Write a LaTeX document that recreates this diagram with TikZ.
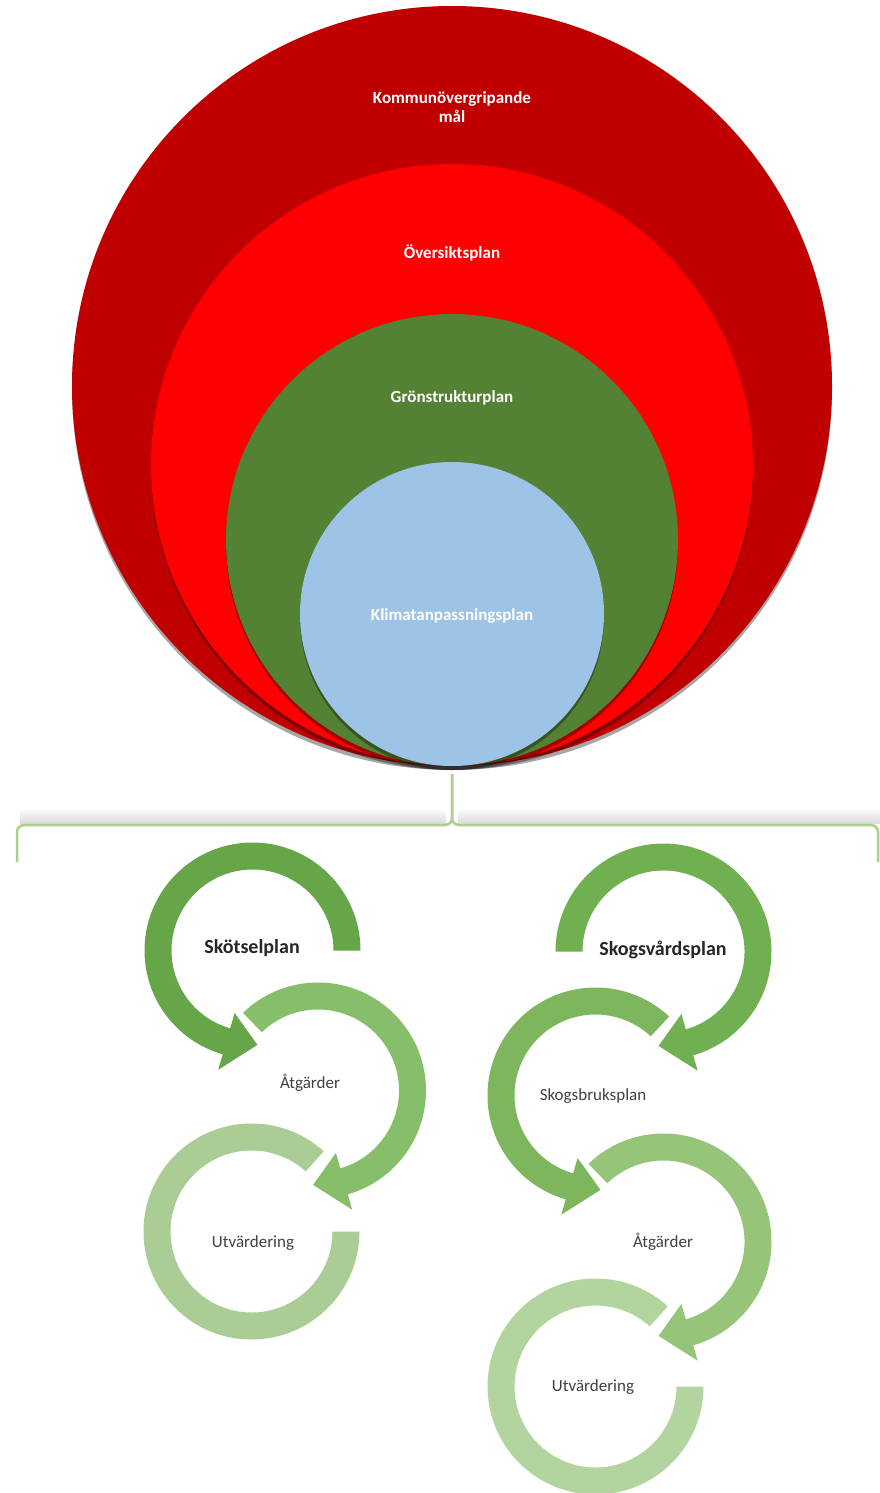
\documentclass[tikz,border=0pt]{standalone}
\usepackage{fontspec}
\setmainfont{Carlito}
\definecolor{darkred}{HTML}{C00000}
\definecolor{brightred}{HTML}{FF0000}
\definecolor{forest}{HTML}{548235}
\definecolor{skyblue}{HTML}{9DC3E6}
\definecolor{braceg}{HTML}{A9D18E}
\definecolor{gA}{HTML}{66A548}
\definecolor{gB}{HTML}{87BE69}
\definecolor{gC}{HTML}{AACD96}
\definecolor{gR1}{HTML}{70B050}
\definecolor{gR2}{HTML}{7DB65C}
\definecolor{gR3}{HTML}{96C57A}
\definecolor{gR4}{HTML}{B2D5A0}
\newcommand\cyclearrow[6]{%
  \begin{scope}[shift={(#1,#2)}]
    \fill[#6] (#3:108pt) arc[start angle=#3,end angle=#4,radius=108pt]
      -- (#4:124pt) -- (#5:94.5pt) -- (#4:65pt) -- (#4:81pt)
      arc[start angle=#4,end angle=#3,radius=81pt] -- cycle;
  \end{scope}}
\newcommand\cycleband[5]{%
  \begin{scope}[shift={(#1,#2)}]
    \fill[#5] (#3:108pt) arc[start angle=#3,end angle=#4,radius=108pt]
      -- (#4:81pt) arc[start angle=#4,end angle=#3,radius=81pt] -- cycle;
  \end{scope}}
\begin{document}
\begin{tikzpicture}[x=1pt,y=1pt,
  disc/.style={circle, inner sep=0pt, outer sep=0pt},
  discshadow/.style={fill=black, opacity=0.35},
  toplbl/.style={text=white, font=\bfseries\fontsize{17}{19}\selectfont, align=center},
  cyctitle/.style={text=black!85, font=\bfseries\fontsize{20}{22}\selectfont},
  cyclbl/.style={text=black!75, font=\fontsize{17}{19}\selectfont},
  brace/.style={draw=braceg, line width=2.5pt, rounded corners=7pt},
]
\useasboundingbox (0,0) rectangle (880,-1493);
\fill[white] (0,0) rectangle (880,-1493);

% nested circles with shadows
\fill[discshadow] (452,-390) circle (380pt);
\node[disc, fill=darkred, minimum size=760pt] (kom) at (452,-386) {};
\fill[discshadow] (452,-469) circle (301pt);
\node[disc, fill=brightred, minimum size=602pt] (ovr) at (452,-465) {};
\fill[discshadow] (452,-544) circle (226pt);
\node[disc, fill=forest, minimum size=452pt] (gron) at (452,-540) {};
\fill[discshadow] (452,-618) circle (152pt);
\node[disc, fill=skyblue, minimum size=304pt] (klim) at (452,-614) {};

\node[toplbl] (komL) at (452,-107) {Kommunövergripande\\mål};
\node[toplbl] (ovrL) at (452,-253) {Översiktsplan};
\node[toplbl] (gronL) at (452,-398) {Grönstrukturplan};
\node[toplbl] (klimL) at (452,-616) {Klimatanpassningsplan};

% brace
\coordinate (bt) at (452,-774);
\coordinate (bl) at (17,-862);
\coordinate (br) at (878,-862);
\shade[top color=white, bottom color=black!14] (20,-808) rectangle (446,-823);
\shade[top color=white, bottom color=black!14] (458,-808) rectangle (880,-823);
\draw[brace] (bl) |- (452,-825) -- (bt);
\draw[brace] (br) |- (452,-825) -- (bt);

% left cycle
\cyclearrow{252.5}{-950.5}{0}{254}{273}{gA}
\cyclearrow{318}{-1090.5}{134}{-74}{-93}{gB}
\cycleband{251.5}{-1231.5}{48}{360}{gC}
\node[cyctitle] (skot) at (252,-948) {Skötselplan};
\node[cyclbl] (atg1) at (310,-1083) {Åtgärder};
\node[cyclbl] (utv1) at (253,-1243) {Utvärdering};

% right cycle
\cyclearrow{663.5}{-951.5}{180}{-74}{-93}{gR1}
\cyclearrow{595.5}{-1095.5}{47}{254}{273}{gR2}
\cyclearrow{663.5}{-1241.5}{134}{-74}{-93}{gR3}
\cycleband{595.5}{-1386.5}{48}{360}{gR4}
\node[cyctitle] (skog) at (663,-950) {Skogsvårdsplan};
\node[cyclbl] (skb) at (593,-1096) {Skogsbruksplan};
\node[cyclbl] (atg2) at (663,-1242) {Åtgärder};
\node[cyclbl] (utv2) at (593,-1387) {Utvärdering};
\end{tikzpicture}
\end{document}
